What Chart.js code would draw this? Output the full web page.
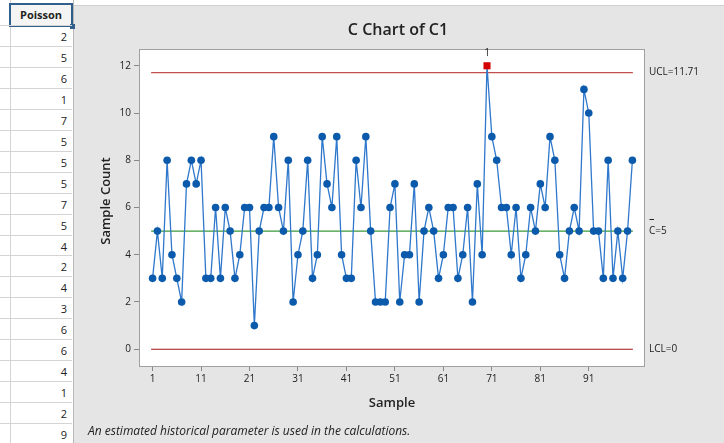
<!DOCTYPE html>
<html>
<head>
<meta charset="UTF-8">
<title>C Chart of C1</title>
<script src="https://cdn.jsdelivr.net/npm/chart.js"></script>
<style>
    html, body { margin: 0; padding: 0; background: #fff; }
    body { width: 724px; height: 443px; overflow: hidden; position: relative; font-family: "Open Sans", "Noto Sans", sans-serif; }
    #chart { position: absolute; left: 0; top: 0; }
    #sheet { position: absolute; left: 0; top: 0; width: 73px; height: 443px; background: #fff; border-right: 1px solid #b8b8b8; z-index: 2; }
    #sheet .col { position: absolute; left: 10px; top: 0; width: 62px; height: 443px; border-left: 1px solid #d4d4d4; }
    #sheet .hdr { position: absolute; left: 9px; top: 3px; width: 60px; height: 20px; border: 2px solid #2f5f8a; font-size: 11px; font-weight: bold; color: #222; text-align: center; line-height: 20px; background: #f4f4f4; }
    #sheet .hdr i { position: absolute; right: -4px; bottom: -4px; width: 5px; height: 5px; background: #2f5f8a; }
    #sheet .row { position: absolute; left: 0; width: 72px; height: 21px; border-top: 1px solid #d4d4d4; font-size: 11px; color: #222; text-align: right; line-height: 21px; box-sizing: border-box; padding-right: 5px; }
</style>
</head>
<body>
<div id="sheet"><div class="col"></div><div class="hdr">Poisson<i></i></div></div>
<canvas id="chart" width="724" height="443"></canvas>
<script>
    // worksheet column shown at the left
    const sheetValues = [2, 5, 6, 1, 7, 5, 5, 5, 7, 5, 4, 2, 4, 3, 6, 6, 4, 1, 2, 9];

    // C chart data (samples 1..100)
    const counts = [
        3, 5, 3, 8, 4, 3, 2, 7, 8, 7, 8, 3, 3, 6, 3, 6, 5, 3, 4, 6, 6, 1, 5, 6, 6,
        9, 6, 5, 8, 2, 4, 5, 8, 3, 4, 9, 7, 6, 9, 4, 3, 3, 8, 6, 9, 5, 2, 2, 2, 6,
        7, 2, 4, 4, 7, 2, 5, 6, 5, 3, 4, 6, 6, 3, 4, 6, 2, 7, 4, 12, 9, 8, 6, 6, 4,
        6, 3, 4, 6, 5, 7, 6, 9, 8, 4, 3, 5, 6, 5, 11, 10, 5, 5, 3, 8, 3, 5, 3, 5, 8
    ];
    const UCL = 11.71, CL = 5, LCL = 0;
    const xTicks = [1, 11, 21, 31, 41, 51, 61, 71, 81, 91];
    const yTicks = [0, 2, 4, 6, 8, 10, 12];

    const sheet = document.getElementById('sheet');
    sheetValues.forEach((v, i) => {
        const r = document.createElement('div');
        r.className = 'row';
        r.style.top = (25 + i * 20.95) + 'px';
        r.textContent = v;
        sheet.appendChild(r);
    });

    const pts = counts.map((v, i) => ({ x: i + 1, y: v }));
    const outOfControl = counts.map(v => v > UCL || v < LCL);
    const limitLine = (y) => [{ x: 0.7, y: y }, { x: 100.1, y: y }];

    const frame = {
        id: 'frame',
        beforeDraw(chart) {
            const { ctx, chartArea: a } = chart;
            ctx.save();
            ctx.fillStyle = '#e5e5e5';
            ctx.fillRect(73, 6, 724 - 73, 443 - 6);
            ctx.strokeStyle = '#d0d0d0';
            ctx.beginPath(); ctx.moveTo(73, 5.5); ctx.lineTo(724, 5.5); ctx.stroke();
            ctx.fillStyle = '#fff';
            ctx.fillRect(a.left, a.top, a.right - a.left, a.bottom - a.top);
            ctx.restore();
        },
        afterDraw(chart) {
            const { ctx, chartArea: a, scales } = chart;
            ctx.save();
            ctx.strokeStyle = '#a0a0a0';
            ctx.lineWidth = 1;
            ctx.strokeRect(a.left + 0.5, a.top + 0.5, a.right - a.left - 1, a.bottom - a.top);

            ctx.fillStyle = '#222';
            ctx.textAlign = 'center';
            ctx.textBaseline = 'middle';
            ctx.font = '600 16px "Open Sans", sans-serif';
            ctx.fillText('C Chart of C1', 398, 30);

            ctx.font = '600 13px "Open Sans", sans-serif';
            ctx.fillText('Sample', (a.left + a.right) / 2, 403);
            ctx.save();
            ctx.translate(106, 201);
            ctx.rotate(-Math.PI / 2);
            ctx.fillText('Sample Count', 0, 0);
            ctx.restore();

            ctx.font = 'italic 12px "Open Sans", sans-serif';
            ctx.textAlign = 'left';
            ctx.fillText('An estimated historical parameter is used in the calculations.', 88, 432);

            const y = scales.y;
            ctx.font = '10px "Open Sans", sans-serif';
            ctx.fillStyle = '#222';
            ctx.fillText('UCL=' + UCL, 649, y.getPixelForValue(UCL));
            ctx.fillText('C=' + CL, 649, y.getPixelForValue(CL));
            ctx.fillText('LCL=' + LCL, 649, y.getPixelForValue(LCL));
            ctx.strokeStyle = '#222';
            ctx.beginPath();
            const by = Math.round(y.getPixelForValue(CL)) - 11.5;
            ctx.moveTo(649.5, by); ctx.lineTo(654, by);
            ctx.stroke();

            ctx.textAlign = 'center';
            counts.forEach((v, i) => {
                if (outOfControl[i]) {
                    ctx.fillText('1', scales.x.getPixelForValue(i + 1), y.getPixelForValue(v) - 13);
                }
            });
            ctx.restore();
        }
    };

    new Chart(document.getElementById('chart'), {
        type: 'line',
        data: {
            datasets: [
                {
                    data: pts,
                    borderColor: '#2f78cc',
                    borderWidth: 1.3,
                    pointRadius: counts.map((v, i) => outOfControl[i] ? 5 : 3.8),
                    pointStyle: counts.map((v, i) => outOfControl[i] ? 'rect' : 'circle'),
                    pointBackgroundColor: counts.map((v, i) => outOfControl[i] ? '#d40000' : '#0b5aab'),
                    pointBorderWidth: 0,
                    tension: 0
                },
                { data: limitLine(UCL), borderColor: '#c0504d', borderWidth: 1.2, pointRadius: 0 },
                { data: limitLine(CL), borderColor: '#3a9a3a', borderWidth: 1.2, pointRadius: 0 },
                { data: limitLine(LCL), borderColor: '#a01010', borderWidth: 1.2, pointRadius: 0 }
            ]
        },
        options: {
            responsive: false,
            animation: false,
            layout: { padding: { left: 109, right: 79, top: 49, bottom: 57 } },
            plugins: { legend: { display: false }, tooltip: { enabled: false } },
            scales: {
                x: {
                    type: 'linear',
                    min: -1.8,
                    max: 102.6,
                    afterBuildTicks: s => { s.ticks = xTicks.map(v => ({ value: v })); },
                    afterFit: s => { s.height = 20; },
                    grid: { drawOnChartArea: false, tickLength: 5, color: '#888' },
                    border: { display: false },
                    ticks: { color: '#222', font: { size: 10, family: '"Open Sans", sans-serif' }, padding: 2, maxRotation: 0 }
                },
                y: {
                    min: -0.71,
                    max: 12.71,
                    afterBuildTicks: s => { s.ticks = yTicks.map(v => ({ value: v })); },
                    afterFit: s => { s.width = 30; },
                    grid: { drawOnChartArea: false, tickLength: 5, color: '#888' },
                    border: { display: false },
                    ticks: { color: '#222', font: { size: 10, family: '"Open Sans", sans-serif' }, padding: 3 }
                }
            }
        },
        plugins: [frame]
    });
</script>
</body>
</html>
